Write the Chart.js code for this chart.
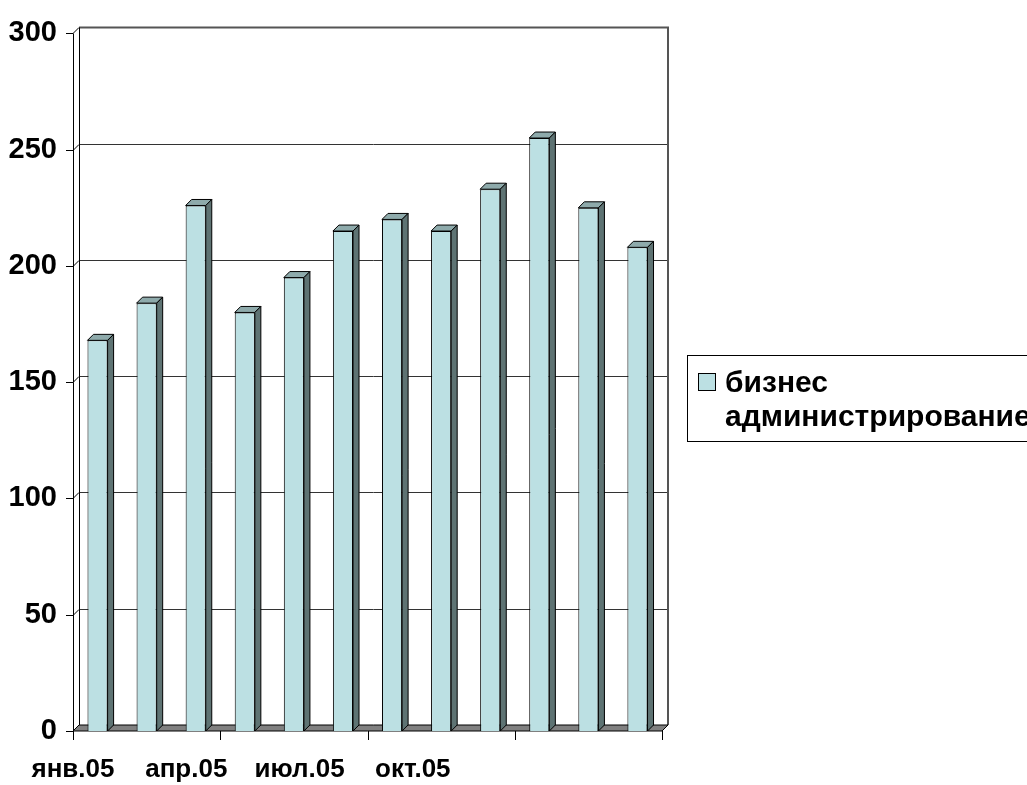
<!DOCTYPE html>
<html>
<head>
<meta charset="utf-8">
<script src="https://cdn.jsdelivr.net/npm/chart.js@4.4.1/dist/chart.umd.min.js"></script>
<style>
  html, body { margin: 0; padding: 0; background: #ffffff; }
  #wrap { width: 1027px; height: 785px; position: relative; }
</style>
</head>
<body>
<div id="wrap"><canvas id="c" width="1027" height="785"></canvas></div>
<script>
// Monthly values, 2005
const months = ['янв.05', 'фев.05', 'мар.05', 'апр.05', 'май.05', 'июн.05',
                'июл.05', 'авг.05', 'сен.05', 'окт.05', 'ноя.05', 'дек.05'];
const seriesName = 'бизнес администрирование';
const values = [168, 184, 226, 180, 195, 215, 220, 215, 233, 255, 225, 208];
const axisLabels = ['янв.05', 'апр.05', 'июл.05', 'окт.05'];
const yTicks = [0, 50, 100, 150, 200, 250, 300];

const DEPTH = 6;
const FRONT = '#BCE0E3';
const TOP = '#8EAAAB';
const SIDE = '#5E7373';
const FAMILY = '"Liberation Sans", Arial, sans-serif';
const Y_FONT = { family: FAMILY, size: 29, weight: 'bold' };
const X_FONT = { family: FAMILY, size: 26, weight: 'bold' };

// Walls, floor, gridlines and axis ticks of the 3-D frame
const framePlugin = {
  id: 'frame3d',
  beforeDatasetsDraw(chart) {
    const { ctx, chartArea: a, scales } = chart;
    const y = scales.y, x = scales.x;
    const d = DEPTH;
    ctx.save();
    // back wall
    ctx.fillStyle = '#ffffff';
    ctx.fillRect(a.left + d, a.top - d, a.right - a.left, a.bottom - a.top);
    // gridlines on back wall + left-wall connectors + ticks
    ctx.lineWidth = 1;
    yTicks.forEach(v => {
      const py = Math.round(y.getPixelForValue(v)) + 0.5;
      ctx.strokeStyle = '#333333';
      if (v > 0) {
        ctx.beginPath();
        ctx.moveTo(a.left + d, py - d);
        ctx.lineTo(a.right + d, py - d);
        ctx.stroke();
      }
      ctx.strokeStyle = '#000000';
      ctx.beginPath();
      ctx.moveTo(a.left - 7, py);
      ctx.lineTo(a.left, py);
      ctx.lineTo(a.left + d, py - d);
      ctx.stroke();
    });
    // back wall top and right edges
    ctx.strokeStyle = '#555555';
    ctx.lineWidth = 2;
    ctx.beginPath();
    ctx.moveTo(a.left + d, a.top - d);
    ctx.lineTo(a.right + d, a.top - d);
    ctx.lineTo(a.right + d, a.bottom - d);
    ctx.stroke();
    // back wall left edge
    ctx.strokeStyle = '#000000';
    ctx.lineWidth = 1;
    ctx.beginPath();
    ctx.moveTo(Math.round(a.left + d) + 0.5, a.top - d);
    ctx.lineTo(Math.round(a.left + d) + 0.5, a.bottom - d);
    ctx.stroke();
    // front value axis line
    ctx.beginPath();
    ctx.moveTo(Math.round(a.left) + 0.5, a.top);
    ctx.lineTo(Math.round(a.left) + 0.5, a.bottom);
    ctx.stroke();
    // floor
    ctx.fillStyle = '#808080';
    ctx.beginPath();
    ctx.moveTo(a.left, a.bottom);
    ctx.lineTo(a.right, a.bottom);
    ctx.lineTo(a.right + d, a.bottom - d);
    ctx.lineTo(a.left + d, a.bottom - d);
    ctx.closePath();
    ctx.fill();
    ctx.strokeStyle = '#000000';
    ctx.stroke();
    // category tick marks every quarter
    for (let k = 0; k <= months.length; k += 3) {
      const px = Math.round(x.getPixelForValue(k - 0.5)) + 0.5;
      ctx.beginPath();
      ctx.moveTo(px, a.bottom);
      ctx.lineTo(px, a.bottom + 9);
      ctx.stroke();
    }
    ctx.restore();
  },
  afterDatasetsDraw(chart) {
    const { ctx } = chart;
    const d = DEPTH;
    const meta = chart.getDatasetMeta(0);
    ctx.save();
    ctx.lineWidth = 1;
    ctx.strokeStyle = '#000000';
    ctx.lineJoin = 'round';
    meta.data.forEach(bar => {
      const p = bar.getProps(['x', 'y', 'base', 'width'], true);
      const l = p.x - p.width / 2, r = p.x + p.width / 2;
      // top face
      ctx.fillStyle = TOP;
      ctx.beginPath();
      ctx.moveTo(l, p.y);
      ctx.lineTo(r, p.y);
      ctx.lineTo(r + d, p.y - d);
      ctx.lineTo(l + d, p.y - d);
      ctx.closePath();
      ctx.fill();
      ctx.stroke();
      // side face
      ctx.fillStyle = SIDE;
      ctx.beginPath();
      ctx.moveTo(r, p.y);
      ctx.lineTo(r + d, p.y - d);
      ctx.lineTo(r + d, p.base - d);
      ctx.lineTo(r, p.base);
      ctx.closePath();
      ctx.fill();
      ctx.stroke();
    });
    ctx.restore();
  },
  afterDraw(chart) {
    // legend box
    const { ctx } = chart;
    const ds = chart.data.datasets[0];
    ctx.save();
    ctx.strokeStyle = '#000000';
    ctx.lineWidth = 1;
    ctx.strokeRect(687.5, 355.5, 400, 86);
    ctx.fillStyle = ds.backgroundColor;
    ctx.fillRect(698.5, 373.5, 17, 17);
    ctx.strokeRect(698.5, 373.5, 17, 17);
    ctx.fillStyle = '#000000';
    ctx.font = `bold 30px ${FAMILY}`;
    ctx.textBaseline = 'middle';
    ctx.textAlign = 'left';
    const words = ds.label.split(' ');
    words.forEach((w, i) => ctx.fillText(w, 725, 384 + i * 34));
    ctx.restore();
  }
};

new Chart(document.getElementById('c'), {
  type: 'bar',
  data: {
    labels: months,
    datasets: [{
      label: seriesName,
      data: values,
      backgroundColor: FRONT,
      borderColor: '#000000',
      borderWidth: 1,
      barPercentage: 0.41,
      categoryPercentage: 1.0
    }]
  },
  options: {
    responsive: false,
    animation: false,
    events: [],
    layout: { padding: { top: 28, right: 365, bottom: 0, left: 0 } },
    plugins: { legend: { display: false }, tooltip: { enabled: false } },
    scales: {
      x: { display: false },
      xl: {
        type: 'linear',
        position: 'bottom',
        offset: false,
        min: 0,
        max: 5.2,
        grid: { display: false, offset: false, drawTicks: false },
        border: { display: false },
        afterBuildTicks(scale) { scale.ticks = axisLabels.map((_, i) => ({ value: i })); },
        afterFit(scale) { scale.height = 54; },
        ticks: {
          padding: 23,
          color: '#000000',
          font: X_FONT,
          maxRotation: 0,
          autoSkip: false,
          callback: (v) => axisLabels[v]
        }
      },
      y: {
        min: 0,
        max: 300,
        grid: { display: false, drawTicks: false },
        border: { display: false },
        afterFit(scale) { scale.width = 73; },
        ticks: {
          stepSize: 50,
          padding: 16,
          color: '#000000',
          font: Y_FONT
        }
      }
    }
  },
  plugins: [framePlugin]
});
</script>
</body>
</html>
